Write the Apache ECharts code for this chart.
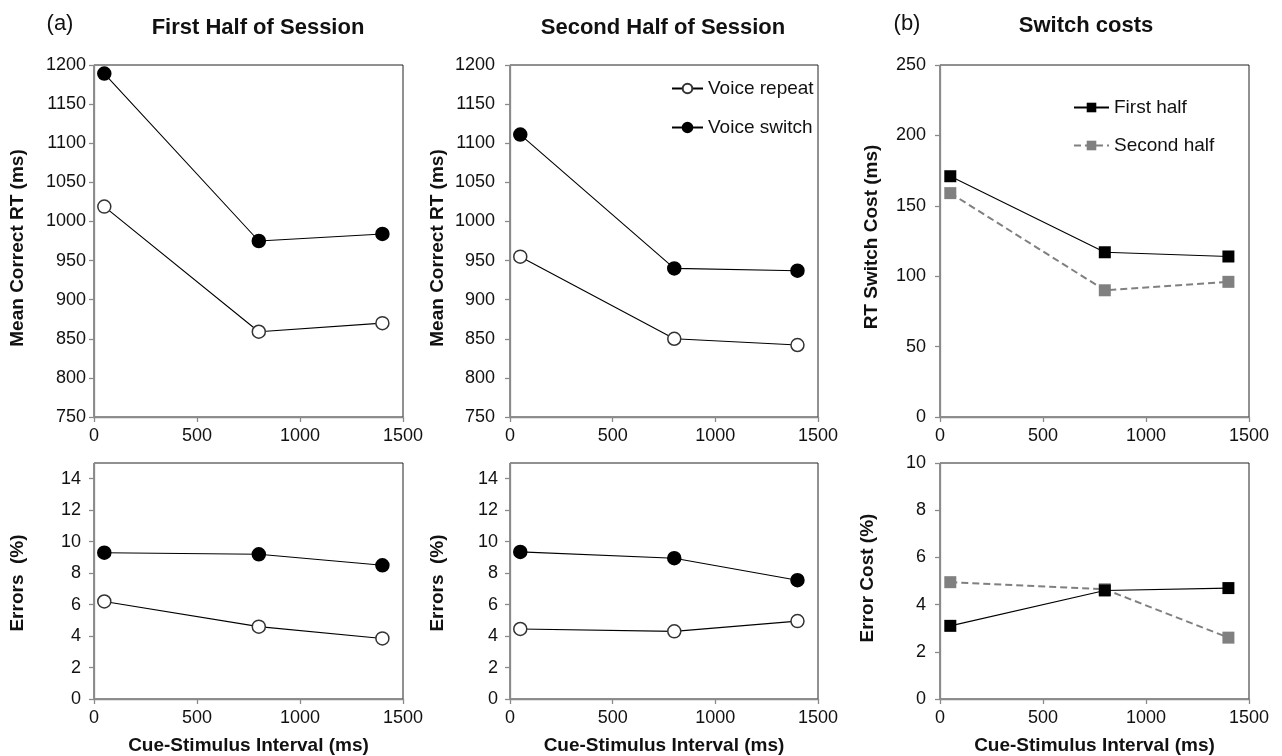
<!DOCTYPE html>
<html><head><meta charset="utf-8">
<script src="https://cdn.jsdelivr.net/npm/echarts@6/dist/echarts.min.js"></script>
<style>html,body{margin:0;padding:0;background:#fff}#c{width:1282px;height:756px}</style>
</head><body><div id="c"></div>
<script>
// ---- data ----
const csi = [50, 800, 1400];
const rtFirstRepeat = [1019, 859, 870];
const rtFirstSwitch = [1189, 975, 984];
const rtSecondRepeat = [955, 850, 842];
const rtSecondSwitch = [1111, 940, 937];
const rtCostFirst = [171, 117, 114];
const rtCostSecond = [159, 90, 96];
const errFirstRepeat = [6.2, 4.6, 3.85];
const errFirstSwitch = [9.3, 9.2, 8.5];
const errSecondRepeat = [4.45, 4.3, 4.95];
const errSecondSwitch = [9.35, 8.95, 7.55];
const errCostFirst = [3.1, 4.6, 4.7];
const errCostSecond = [4.95, 4.65, 2.6];
const errTicks = [0, 2, 4, 6, 8, 10, 12, 14];

const FF = '"Liberation Sans", Arial, Helvetica, sans-serif';
const AX = '#8a8a8a';
const chart = echarts.init(document.getElementById('c'));

const TOP1 = 65, H1 = 352, TOP2 = 463, H2 = 236;
const grids = [
  {left: 94, top: TOP1, width: 309, height: H1},
  {left: 510, top: TOP1, width: 308, height: H1},
  {left: 940, top: TOP1, width: 309, height: H1},
  {left: 94, top: TOP2, width: 309, height: H2},
  {left: 510, top: TOP2, width: 308, height: H2},
  {left: 940, top: TOP2, width: 309, height: H2}
].map(g => Object.assign({show: true, borderColor: '#222', borderWidth: 1, backgroundColor: 'transparent'}, g));

const plain = v => String(v);

function xAx(gi, named) {
  return {
    type: 'value', gridIndex: gi, min: 0, max: 1500, interval: 500,
    axisLine: {show: true, onZero: false, lineStyle: {color: AX, width: 1.3}},
    axisTick: {show: true, length: 5, lineStyle: {color: AX, width: 1.3}},
    axisLabel: {fontSize: 18, color: '#111', margin: 10, fontFamily: FF, formatter: plain},
    splitLine: {show: false},
    name: named ? 'Cue-Stimulus Interval (ms)' : '',
    nameLocation: 'middle', nameGap: 37,
    nameTextStyle: {fontSize: 19, fontWeight: 'bold', color: '#111', fontFamily: FF}
  };
}
function yAx(gi, min, max, interval, margin, custom) {
  const a = {
    type: 'value', gridIndex: gi, min: min, max: max, interval: interval,
    axisLine: {show: true, onZero: false, lineStyle: {color: AX, width: 1.3}},
    axisTick: {show: true, length: 5, lineStyle: {color: AX, width: 1.3}},
    axisLabel: {fontSize: 18, color: '#111', margin: margin, fontFamily: FF, formatter: plain},
    splitLine: {show: false}
  };
  if (custom) {
    a.axisTick.customValues = custom;
    a.axisLabel.customValues = custom;
  }
  return a;
}

const xAxes = [xAx(0, false), xAx(1, false), xAx(2, false), xAx(3, true), xAx(4, true), xAx(5, true)];
const yAxes = [
  yAx(0, 750, 1200, 50, 8),
  yAx(1, 750, 1200, 50, 15),
  yAx(2, 0, 250, 50, 14),
  yAx(3, 0, 15, 1, 13, errTicks),
  yAx(4, 0, 15, 1, 12, errTicks),
  yAx(5, 0, 10, 2, 14)
];

function pts(vals) { return csi.map((x, i) => [x, vals[i]]); }
function circ(name, gi, vals, filled) {
  return {
    type: 'line', name: name, xAxisIndex: gi, yAxisIndex: gi, data: pts(vals),
    symbol: 'circle', symbolSize: 13, z: 3,
    lineStyle: {color: '#000', width: 1.1},
    itemStyle: {color: filled ? '#000' : '#fff', borderColor: filled ? '#000' : '#333', borderWidth: 1.5}
  };
}
function sq(name, gi, vals, second) {
  return {
    type: 'line', name: name, xAxisIndex: gi, yAxisIndex: gi, data: pts(vals),
    symbol: 'rect', symbolSize: 12, z: second ? 3 : 4,
    lineStyle: second ? {color: '#808080', width: 2, type: [7, 4]} : {color: '#000', width: 1.1},
    itemStyle: {color: second ? '#808080' : '#000', borderWidth: 0}
  };
}

const series = [
  circ('Voice repeat', 0, rtFirstRepeat, false),
  circ('Voice switch', 0, rtFirstSwitch, true),
  circ('Voice repeat', 1, rtSecondRepeat, false),
  circ('Voice switch', 1, rtSecondSwitch, true),
  sq('First half', 2, rtCostFirst, false),
  sq('Second half', 2, rtCostSecond, true),
  circ('Voice repeat', 3, errFirstRepeat, false),
  circ('Voice switch', 3, errFirstSwitch, true),
  circ('Voice repeat', 4, errSecondRepeat, false),
  circ('Voice switch', 4, errSecondSwitch, true),
  sq('First half', 5, errCostFirst, false),
  sq('Second half', 5, errCostSecond, true)
];

function txt(s, x, y, size, bold, rot) {
  return {type: 'text', x: x, y: y, rotation: rot || 0, silent: true,
    style: {text: s, font: (bold ? 'bold ' : '') + size + 'px ' + FF, fill: '#111', align: 'center', verticalAlign: 'middle'}};
}
const R = Math.PI / 2;

const legendBase = {
  orient: 'vertical', selectedMode: false, padding: 0, itemHeight: 12, itemGap: 20,
  textStyle: {fontSize: 19, color: '#111', fontFamily: FF}
};

chart.setOption({
  animation: false,
  backgroundColor: '#fff',
  grid: grids,
  xAxis: xAxes,
  yAxis: yAxes,
  series: series,
  legend: [
    Object.assign({}, legendBase, {data: ['Voice repeat', 'Voice switch'], left: 671, top: 79, itemWidth: 31}),
    Object.assign({}, legendBase, {data: ['First half', 'Second half'], left: 1073, top: 98, itemWidth: 35, itemGap: 19})
  ],
  graphic: [
    txt('(a)', 60, 24, 22, false),
    txt('First Half of Session', 258, 28, 22, true),
    txt('Second Half of Session', 663, 28, 22, true),
    txt('(b)', 907, 24, 22, false),
    txt('Switch costs', 1086, 26, 22, true),
    txt('Mean Correct RT (ms)', 18, 248, 19, true, R),
    txt('Mean Correct RT (ms)', 438, 248, 19, true, R),
    txt('RT Switch Cost (ms)', 872, 237, 19, true, R),
    txt('Errors  (%)', 18, 583, 19, true, R),
    txt('Errors  (%)', 438, 583, 19, true, R),
    txt('Error Cost (%)', 868, 578, 19, true, R)
  ]
});
</script></body></html>
